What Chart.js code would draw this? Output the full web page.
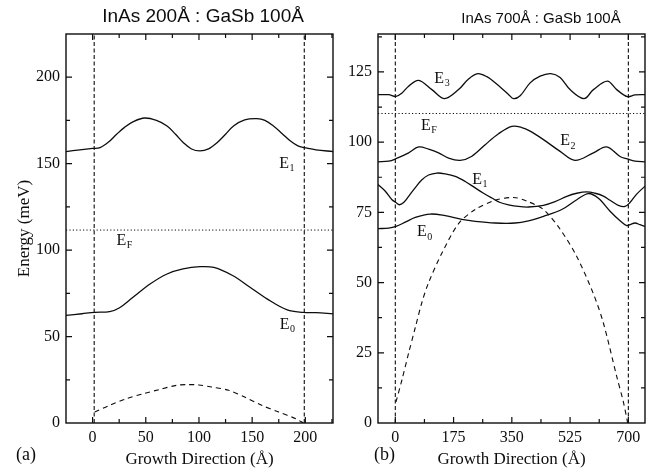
<!DOCTYPE html>
<html>
<head>
<meta charset="utf-8">
<script src="https://cdn.jsdelivr.net/npm/chart.js@4/dist/chart.umd.min.js"></script>
<style>
  html,body{margin:0;padding:0;background:#fff;}
  #wrap{position:relative;width:652px;height:472px;overflow:hidden;background:#fff;}
  canvas{position:absolute;top:0;}
  #cA{left:0;}
  #cB{left:340px;}
</style>
</head>
<body>
<div id="wrap">
  <canvas id="cA" width="340" height="472"></canvas>
  <canvas id="cB" width="312" height="472"></canvas>
</div>
<script>
// ---- panel (a): InAs 200Å : GaSb 100Å ----
const aXRange = [-25, 226];
const aYRange = [0, 225];
const aXLabels = [0, 50, 100, 150, 200];
const aYLabels = [0, 50, 100, 150, 200];
const aE1x = [-25,-12,0,7,15,22.6,30,38.3,49,60,70,78,85.4,93,101,109,117,125,132.5,143,154.5,162,170,178,186,193,199,210,226];
const aE1y = [157,158,158.8,159.3,162.5,167,171,174.3,176.4,175,171.8,167,162.1,158.5,157.4,158.6,162.1,167,171.8,175.3,176,175,171.8,167.5,163.1,160.3,159.3,158,157];
const aE0x = [-25,-10,2,16,25,38,54,70,85,101,114,132,148,164,183,198,210,226];
const aE0y = [62.2,63.2,64,64.4,66.5,72.7,80.4,86.2,89.1,90.4,90,85.2,78.5,71.8,65.4,64,63.8,63.1];
const aVx  = [2,16,32,48,63,79,90,100,112,128,143,159,175,191,198];
const aVy  = [6.3,10.2,14.1,17,19.4,21.8,22.2,22,20.8,18.9,15,10.2,6.3,2.5,0];
const aEF = 111.6;
const aWalls = [1.5, 199];
const aTags = [
  {t:'E', s:'1', x:180, y:150},
  {t:'E', s:'F', x:27,  y:105.4},
  {t:'E', s:'0', x:180.5, y:57}
];

// ---- panel (b): InAs 700Å : GaSb 100Å ----
const bXRange = [-52, 750];
const bYRange = [0, 138.5];
const bXLabels = [0, 175, 350, 525, 700];
const bYLabels = [0, 25, 50, 75, 100, 125];
const bE3x = [-52,-20,2,20,40,70,110,148,190,220,248,275,300,340,355,375,405,435,467,495,525,567,595,637,665,697,720,750];
const bE3y = [116.9,116.9,116.3,117.5,119.9,122,118.7,115.5,118.7,122.5,124.4,123.3,121.1,117,115.5,116.5,121.1,123.5,124.4,123,118.7,115.5,118.7,121.7,118.7,116.2,116.8,116.9];
const bE2x = [-52,-20,2,40,70,100,130,160,195,230,270,310,350,380,405,445,495,540,595,635,675,697,720,750];
const bE2y = [93,93.2,94.1,96.2,98.3,97.5,96.2,94.3,93.5,95,99.1,103,105.6,105.2,103.9,100.9,96.7,93.5,96.2,98.3,94.9,94,93.2,93];
const bE1x = [-52,-30,-10,2,12,25,40,60,80,100,125,150,180,210,240,265,290,315,340,370,400,445,480,515,545,575,600,625,645,670,690,705,725,750];
const bE1y = [84.9,82.5,79.5,78.5,77.7,78.5,80.7,83.8,86.6,88.3,89,88.7,87.8,86,83.7,81.8,80.1,78.5,77.7,77.1,76.9,77.5,78.8,80.7,81.8,82.3,81.8,80.8,79.3,77.5,77.1,78.5,81.5,84.3];
const bE0x = [-52,-20,2,30,60,105,150,200,240,300,360,400,445,500,545,580,610,645,675,695,705,720,735,750];
const bE0y = [69.2,69.4,70,71.5,73.2,74.4,73.8,72.5,71.8,71.2,71.2,72,73.6,76,79.5,81.7,80,75.4,72,70.3,70.6,71.2,70.6,70];
const bVx  = [2,20,40,60,80,100,140,190,240,300,355,395,445,495,545,595,625,665,685,698];
const bVy  = [7.5,15.4,24.9,34,43,50,60.5,71,76,79.3,80.3,79,76,69,59.3,46,35.6,16.6,7.5,0];
const bEF = 110.2;
const bWalls = [0, 700];
const bTags = [
  {t:'E', s:'3', x:132, y:122.6},
  {t:'E', s:'F', x:92,  y:105.9},
  {t:'E', s:'2', x:510, y:100.3},
  {t:'E', s:'1', x:246, y:86.6},
  {t:'E', s:'0', x:80,  y:67.9}
];

const INK = '#0d0d0d';
const SERIF = '"Liberation Serif", "DejaVu Serif", serif';
const SANS = '"Liberation Sans", Arial, sans-serif';

const pts = (xs, ys) => xs.map((x, i) => ({x, y: ys[i]}));

function solid(xs, ys){
  return { data: pts(xs, ys), borderColor: INK, borderWidth: 1.3, pointRadius: 0,
           tension: 0.35, fill: false };
}
function dashedCurve(xs, ys){
  return { data: pts(xs, ys), borderColor: INK, borderWidth: 1.1, borderDash: [5, 4],
           pointRadius: 0, tension: 0.3, fill: false };
}
function wall(x, yr){
  return { data: [{x, y: yr[0]}, {x, y: yr[1]}], borderColor: INK, borderWidth: 1.1,
           borderDash: [4, 2.5], pointRadius: 0, fill: false };
}
function fermi(ef, xr){
  return { data: [{x: xr[0], y: ef}, {x: xr[1], y: ef}], borderColor: INK, borderWidth: 1,
           borderDash: [1.2, 2.2], pointRadius: 0, fill: false };
}

// frame, inward ticks, level tags, panel title and letter
const deco = {
  id: 'deco',
  afterDatasetsDraw(chart, args, o){
    const {ctx, chartArea: a, scales: {x, y}} = chart;
    ctx.save();
    ctx.strokeStyle = INK;
    ctx.lineWidth = 1.4;
    ctx.strokeRect(a.left, a.top, a.right - a.left, a.bottom - a.top);
    ctx.lineWidth = 1.2;
    ctx.beginPath();
    x.ticks.forEach(t => {
      const p = x.getPixelForValue(t.value);
      if (p < a.left + 1 || p > a.right - 1) return;
      const L = t.label ? 6 : 4;
      ctx.moveTo(p, a.bottom); ctx.lineTo(p, a.bottom - L);
      ctx.moveTo(p, a.top);    ctx.lineTo(p, a.top + L);
    });
    y.ticks.forEach(t => {
      const p = y.getPixelForValue(t.value);
      if (p < a.top + 1 || p > a.bottom - 1) return;
      const L = t.label ? 6 : 4;
      ctx.moveTo(a.left, p);  ctx.lineTo(a.left + L, p);
      ctx.moveTo(a.right, p); ctx.lineTo(a.right - L, p);
    });
    ctx.stroke();

    ctx.fillStyle = INK;
    o.tags.forEach(l => {
      const px = x.getPixelForValue(l.x), py = y.getPixelForValue(l.y);
      ctx.font = '16px ' + SERIF;
      ctx.textAlign = 'center'; ctx.textBaseline = 'middle';
      ctx.fillText(l.t, px, py);
      const w = ctx.measureText(l.t).width;
      ctx.font = '10px ' + SERIF;
      ctx.textAlign = 'left';
      ctx.fillText(l.s, px + w / 2 + 0.5, py + 5);
    });

    ctx.font = o.titleFont;
    ctx.textAlign = 'center'; ctx.textBaseline = 'middle';
    ctx.fillText(o.title, o.titleX, o.titleY);
    ctx.font = '18px ' + SERIF;
    ctx.textAlign = 'left';
    ctx.fillText(o.letter, o.letterX, 455);
    ctx.restore();
  }
};

function makeChart(el, cfg){
  const showLab = list => v => list.includes(v) ? String(v) : '';
  return new Chart(el, {
    type: 'line',
    data: { datasets: cfg.datasets },
    plugins: [deco],
    options: {
      responsive: false, animation: false,
      layout: { padding: { left: 0, right: 7, top: 34, bottom: 0 } },
      plugins: {
        legend: { display: false }, tooltip: { enabled: false },
        deco: { tags: cfg.tags, title: cfg.title, titleFont: cfg.titleFont, titleX: cfg.titleX,
                titleY: cfg.titleY, letter: cfg.letter, letterX: cfg.letterX }
      },
      scales: {
        x: {
          type: 'linear', min: cfg.xr[0], max: cfg.xr[1],
          grid: { display: false, drawTicks: false, tickLength: 0 },
          border: { display: false },
          ticks: { stepSize: cfg.xStep, includeBounds: false, autoSkip: false, maxRotation: 0,
                   padding: 5, color: INK, font: { family: SERIF, size: 16 },
                   callback: showLab(cfg.xLabels) },
          title: { display: true, text: 'Growth Direction (Å)', color: INK,
                   font: { family: SERIF, size: 17 }, padding: { top: 0, bottom: 2 } },
          afterFit: s => { s.height = 49; }
        },
        y: {
          min: cfg.yr[0], max: cfg.yr[1],
          grid: { display: false, drawTicks: false, tickLength: 0 },
          border: { display: false },
          ticks: { stepSize: cfg.yStep, includeBounds: false, autoSkip: false,
                   padding: 6, color: INK, font: { family: SERIF, size: 16 },
                   callback: showLab(cfg.yLabels) },
          title: { display: cfg.yTitle, text: 'Energy (meV)', color: INK,
                   font: { family: SERIF, size: 17 }, padding: { top: 14, bottom: 0 } },
          afterFit: s => { s.width = cfg.yWidth; }
        }
      }
    }
  });
}

makeChart(document.getElementById('cA'), {
  xr: aXRange, yr: aYRange, xStep: 25, yStep: 25, xLabels: aXLabels, yLabels: aYLabels,
  yTitle: true, yWidth: 66, tags: aTags,
  title: 'InAs 200Å : GaSb 100Å', titleFont: '19px ' + SANS, titleX: 203, titleY: 17,
  letter: '(a)', letterX: 16,
  datasets: [
    wall(aWalls[0], aYRange), wall(aWalls[1], aYRange),
    fermi(aEF, aXRange),
    solid(aE1x, aE1y), solid(aE0x, aE0y),
    dashedCurve(aVx, aVy)
  ]
});

makeChart(document.getElementById('cB'), {
  xr: bXRange, yr: bYRange, xStep: 87.5, yStep: 12.5, xLabels: bXLabels, yLabels: bYLabels,
  yTitle: false, yWidth: 38, tags: bTags,
  title: 'InAs 700Å : GaSb 100Å', titleFont: '15px ' + SANS, titleX: 201, titleY: 19,
  letter: '(b)', letterX: 34,
  datasets: [
    wall(bWalls[0], bYRange), wall(bWalls[1], bYRange),
    fermi(bEF, bXRange),
    solid(bE3x, bE3y), solid(bE2x, bE2y), solid(bE1x, bE1y), solid(bE0x, bE0y),
    dashedCurve(bVx, bVy)
  ]
});
</script>
</body>
</html>
